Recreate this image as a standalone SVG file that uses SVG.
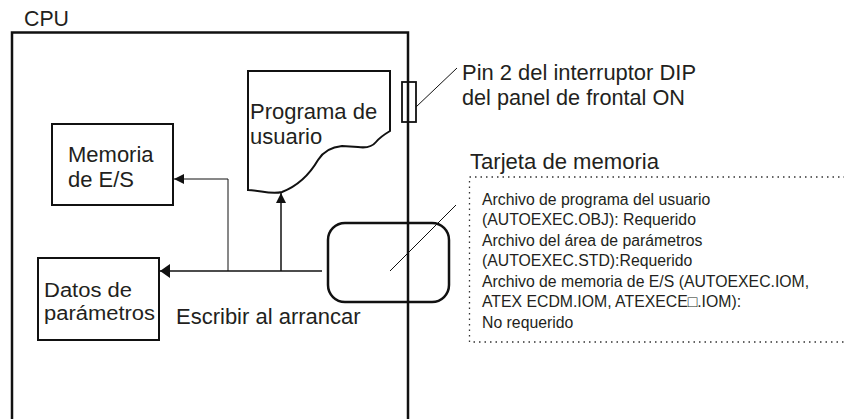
<svg xmlns="http://www.w3.org/2000/svg" width="844" height="419" viewBox="0 0 844 419">
<style>
text{font-family:"Liberation Sans",Arial,sans-serif;fill:#231f20}
.big{font-size:22px}
.mid{font-size:20px}
.small{font-size:15.8px}
.box{fill:none;stroke:#111;stroke-width:2}
.ln{fill:none;stroke:#111;stroke-width:1.5}
.thin{fill:none;stroke:#111;stroke-width:1}
</style>
<defs>
<marker id="ah" viewBox="0 0 10 10" refX="10" refY="5" markerWidth="10" markerHeight="10" markerUnits="userSpaceOnUse" orient="auto">
<path d="M0,0 L10,5 L0,10 Z" fill="#111"/>
</marker>
<marker id="ahL" viewBox="0 0 10 14" refX="10" refY="7" markerWidth="10" markerHeight="14" markerUnits="userSpaceOnUse" orient="auto">
<path d="M0,0 L10,7 L0,14 Z" fill="#111"/>
</marker>
</defs>
<rect width="844" height="419" fill="#fff"/>

<g id="cpu">
<text class="big" x="24" y="26" textLength="45" lengthAdjust="spacingAndGlyphs">CPU</text>
<path d="M12,419 L12,32.5 L408,32.5 L408,419" fill="none" stroke="#111" stroke-width="2.5"/>
</g>

<g id="memoria-es">
<rect class="box" x="52" y="124" width="121" height="81"/>
<text class="big" x="68" y="162">Memoria</text>
<text class="big" x="68" y="187">de E/S</text>
</g>

<g id="datos-parametros">
<rect class="box" x="38" y="258" width="121" height="82"/>
<text class="mid" x="44" y="297" textLength="88" lengthAdjust="spacingAndGlyphs">Datos de</text>
<text class="mid" x="44" y="320" textLength="111" lengthAdjust="spacingAndGlyphs">parámetros</text>
</g>

<g id="programa-usuario">
<path class="box" d="M248,71 L390,71 L390,131 C385,134 380,137 376,142 C372,147 365,148 358,147 L342,146 C331,147 323,152 318,160 C311,172 300,185 282,192 C270,195 260,190 248,190 Z"/>
<text class="big" x="250" y="119">Programa de</text>
<text class="big" x="250" y="144">usuario</text>
</g>

<g id="interruptor-dip">
<rect x="402" y="82" width="14" height="40" fill="none" stroke="#111" stroke-width="1.8"/>
<line class="thin" x1="416" y1="107" x2="457" y2="68"/>
<text class="big" x="462" y="79.5" textLength="234" lengthAdjust="spacingAndGlyphs">Pin 2 del interruptor DIP</text>
<text class="big" x="462" y="105" textLength="223" lengthAdjust="spacingAndGlyphs">del panel de frontal ON</text>
</g>

<g id="tarjeta-memoria">
<rect x="328" y="223" width="121" height="79" rx="17" fill="none" stroke="#111" stroke-width="2.5"/>
<line class="thin" x1="390" y1="271" x2="456" y2="205"/>
<text class="big" x="470" y="169" textLength="189" lengthAdjust="spacingAndGlyphs">Tarjeta de memoria</text>
<path d="M845,177 L469.5,177 L469.5,342 L845,342" fill="none" stroke="#333" stroke-width="1.3" stroke-dasharray="1.5 4"/>
<text class="small" x="482" y="204.5">Archivo de programa del usuario</text>
<text class="small" x="482" y="225">(AUTOEXEC.OBJ): Requerido</text>
<text class="small" x="482" y="245.5">Archivo del área de parámetros</text>
<text class="small" x="482" y="266">(AUTOEXEC.STD):Requerido</text>
<text class="small" x="482" y="286.5">Archivo de memoria de E/S (AUTOEXEC.IOM,</text>
<text class="small" x="482" y="307">ATEX ECDM.IOM, ATEXECE□.IOM):</text>
<text class="small" x="482" y="327.5">No requerido</text>
</g>

<g id="connectors">
<line class="ln" x1="322" y1="271" x2="160" y2="271" stroke-width="2" marker-end="url(#ahL)"/>
<polyline class="thin" points="228,271 228,179 174,179" stroke-width="1.3" marker-end="url(#ah)"/>
<line class="ln" x1="281" y1="271" x2="281" y2="193" stroke-width="2" marker-end="url(#ah)"/>
<text class="big" x="176" y="324">Escribir al arrancar</text>
</g>
</svg>
